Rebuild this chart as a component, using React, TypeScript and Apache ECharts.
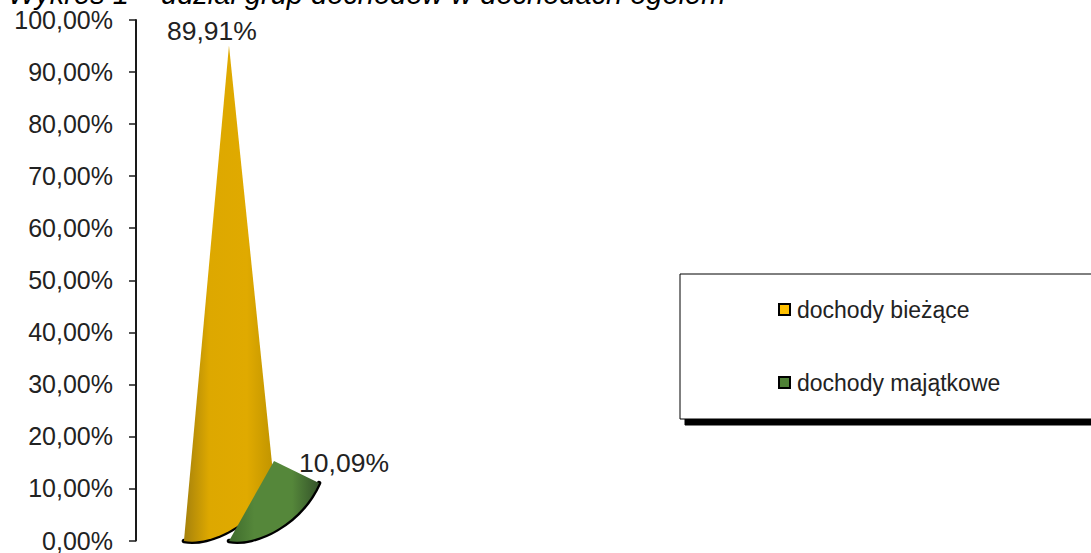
import React, { useEffect, useRef } from "react";
import * as echarts from "echarts";

const seriesNames = ["dochody bieżące", "dochody majątkowe"];
const seriesValues = [89.91, 10.09];
const valueLabels = ["89,91%", "10,09%"];
const categories = ["Wykres 1"];
const legendColors = ["#FFC000", "#4F8136"];
const coneStops = [
  ["#A5810C", "#DDA800", "#E0AA00", "#C09400"],
  ["#3E6B2C", "#55873A", "#55873A", "#34532A"],
];
const labelOffsets = [[-17, -15], [70, 2]];
const FONT = "Liberation Sans, Arial, sans-serif";

function coneRenderer(index: number) {
  return (params: any, api: any) => {
    const base = api.coord([0, 0]);
    const top = api.coord([0, api.value(1)]);
    const band = api.size([1, 0])[0];
    const cx = base[0] + (index - 0.5) * band * 0.195;
    const cy = base[1] - 29;
    const apexY = top[1] - 27;
    const rx = band * 0.195;
    const ry = 28.5;
    const lx = cx - rx, ly = cy + ry + 1, rxp = cx + rx, ryp = cy - ry;
    const curve = `C ${lx + rx * 0.58} ${ly + 5} ${rxp - rx * 0.42} ${ryp + 42} ${rxp} ${ryp}`;
    const stops = coneStops[index];
    const o = labelOffsets[index];
    return {
      type: "group",
      children: [
        {
          type: "path",
          shape: { pathData: `M ${lx} ${ly} ${curve}` },
          style: { fill: "none", stroke: "#000", lineWidth: 4.5, lineCap: "round" },
        },
        {
          type: "path",
          shape: { pathData: `M ${cx} ${apexY} L ${lx} ${ly} ${curve} Z` },
          style: {
            fill: new echarts.graphic.LinearGradient(0, 0, 1, 0, [
              { offset: 0, color: stops[0] },
              { offset: 0.28, color: stops[1] },
              { offset: 0.7, color: stops[2] },
              { offset: 1, color: stops[3] },
            ]),
          },
        },
        {
          type: "text",
          style: {
            x: cx + o[0],
            y: apexY + o[1],
            text: valueLabels[index],
            font: `26.5px ${FONT}`,
            fill: "#222",
            align: "center",
            verticalAlign: "middle",
          },
        },
      ],
    };
  };
}

export default function App() {
  const ref = useRef<HTMLDivElement>(null);
  useEffect(() => {
    const chart = echarts.init(ref.current!, undefined, { renderer: "svg" });
    chart.setOption({
      animation: false,
      backgroundColor: "#fff",
      title: {
        text: "Wykres 1 – udział grup dochodów w dochodach ogółem",
        left: 8,
        top: -21,
        padding: 0,
        textStyle: { fontFamily: FONT, fontSize: 29, fontStyle: "italic", fontWeight: "normal", color: "#000" },
      },
      grid: { left: 136, top: 20, width: 231, height: 523, containLabel: false },
      xAxis: {
        type: "category",
        data: categories,
        axisLine: { show: false },
        axisTick: { show: false },
        axisLabel: { show: false },
      },
      yAxis: {
        type: "value",
        min: 0,
        max: 100,
        interval: 10,
        axisLine: { show: true, lineStyle: { color: "#1a1a1a", width: 2 } },
        axisTick: { show: true, length: 7, lineStyle: { color: "#1a1a1a", width: 1.5 } },
        axisLabel: {
          margin: 23,
          padding: [8, 0, 0, 0],
          fontFamily: FONT,
          fontSize: 25,
          color: "#222",
          formatter: (v: number) => `${v.toFixed(2).replace(".", ",")}%`,
        },
        splitLine: { show: false },
      },
      legend: {
        orient: "vertical",
        left: 680,
        top: 274,
        padding: [24, 400, 25, 98],
        itemGap: 50,
        itemWidth: 11,
        itemHeight: 11,
        backgroundColor: "#fff",
        borderColor: "#000",
        borderWidth: 1,
        borderRadius: 0,
        shadowColor: "#000",
        shadowBlur: 0,
        shadowOffsetX: 5,
        shadowOffsetY: 6,
        textStyle: { fontFamily: FONT, fontSize: 23, color: "#222", padding: [0, 0, 0, 2] },
        data: seriesNames.map((name, i) => ({
          name,
          icon: "rect",
          itemStyle: { color: legendColors[i], borderColor: "#000", borderWidth: 2 },
        })),
      },
      series: seriesNames.map((name, i) => ({
        type: "custom",
        name,
        coordinateSystem: "cartesian2d",
        encode: { x: 0, y: 1 },
        clip: false,
        renderItem: coneRenderer(i),
        data: [[0, seriesValues[i]]],
        z: 2 + i,
      })),
    });
    return () => chart.dispose();
  }, []);
  return <div ref={ref} style={{ width: 1091, height: 553, position: "absolute", left: 0, top: 0 }} />;
}
